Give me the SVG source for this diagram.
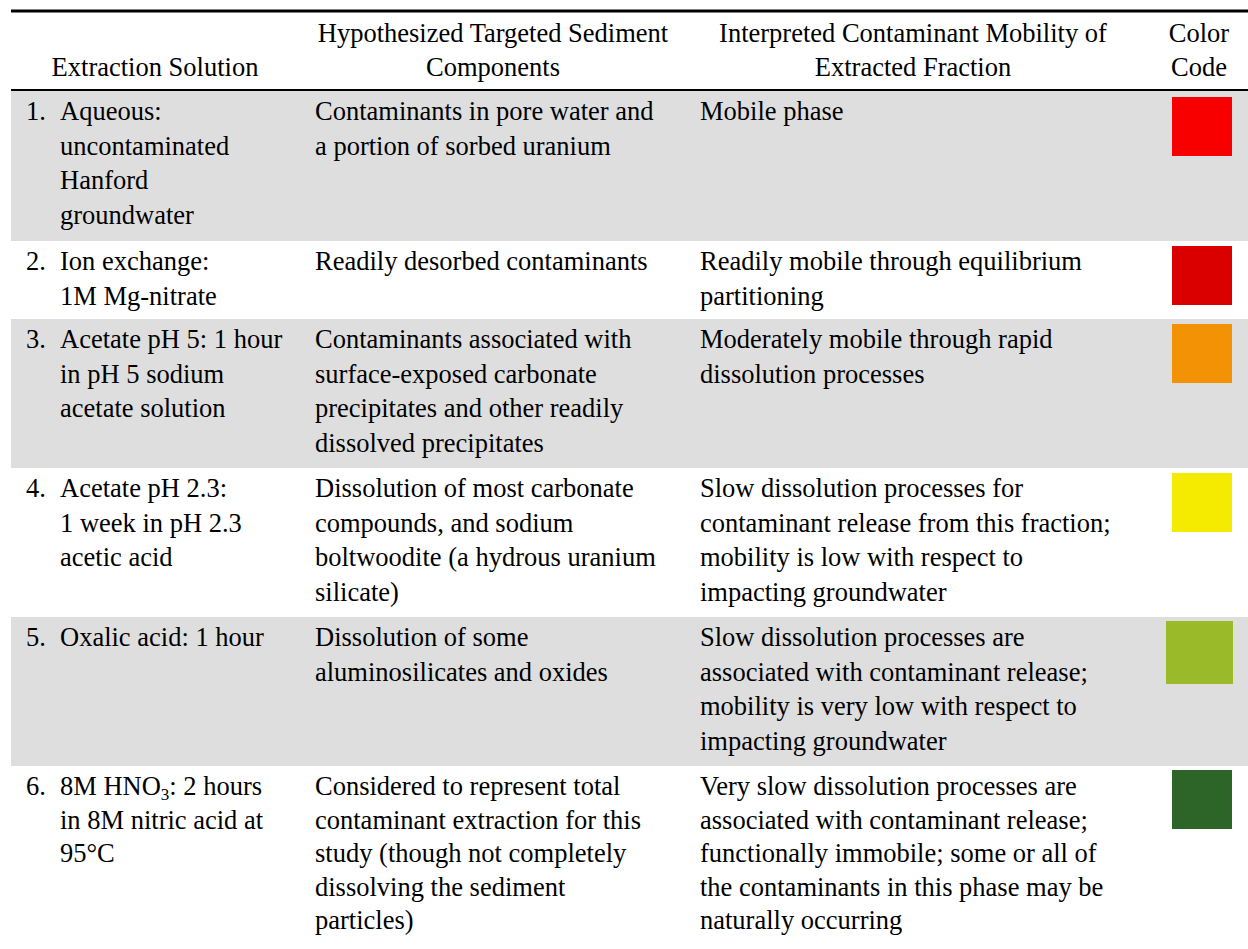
<svg xmlns="http://www.w3.org/2000/svg" width="1248" height="949" viewBox="0 0 1248 949">
<style>
.t{font-family:"Liberation Serif","Times New Roman",serif;font-size:26.5px;fill:#000}
.c{text-anchor:middle}
.band{fill:#dedede}
.rule{stroke:#000}
</style>
<rect x="0" y="0" width="1248" height="949" fill="#fff"/>
<g id="bands">
<rect class="band" x="11" y="91" width="1237" height="150"/>
<rect class="band" x="11" y="319" width="1237" height="149"/>
<rect class="band" x="11" y="617" width="1237" height="149"/>
</g>
<g id="rules">
<line class="rule" x1="11" y1="11" x2="1248" y2="11" stroke-width="3"/>
<line class="rule" x1="11" y1="90" x2="1248" y2="90" stroke-width="2"/>
</g>
<g id="header">
<text class="t c" x="155" y="76">Extraction Solution</text>
<text class="t c" x="493" y="42">Hypothesized Targeted Sediment</text>
<text class="t c" x="493" y="76">Components</text>
<text class="t c" x="913" y="42">Interpreted Contaminant Mobility of</text>
<text class="t c" x="913" y="76">Extracted Fraction</text>
<text class="t c" x="1199" y="42">Color</text>
<text class="t c" x="1199" y="76">Code</text>
</g>
<g id="row1">
<text class="t" x="26" y="120">1.</text>
<text class="t" y="120"><tspan x="60">Aqueous:</tspan><tspan x="60" dy="34.5">uncontaminated</tspan><tspan x="60" dy="34.5">Hanford</tspan><tspan x="60" dy="34.5">groundwater</tspan></text>
<text class="t" y="120"><tspan x="315">Contaminants in pore water and</tspan><tspan x="315" dy="34.5">a portion of sorbed uranium</tspan></text>
<text class="t" x="700" y="120">Mobile phase</text>
<rect x="1172" y="97" width="60" height="59" fill="#f80000"/>
</g>
<g id="row2">
<text class="t" x="26" y="270">2.</text>
<text class="t" y="270"><tspan x="60">Ion exchange:</tspan><tspan x="60" dy="34.5">1M Mg-nitrate</tspan></text>
<text class="t" x="315" y="270">Readily desorbed contaminants</text>
<text class="t" y="270"><tspan x="700">Readily mobile through equilibrium</tspan><tspan x="700" dy="34.5">partitioning</tspan></text>
<rect x="1172" y="246" width="60" height="59" fill="#da0000"/>
</g>
<g id="row3">
<text class="t" x="26" y="348">3.</text>
<text class="t" y="348"><tspan x="60">Acetate pH 5: 1 hour</tspan><tspan x="60" dy="34.5">in pH 5 sodium</tspan><tspan x="60" dy="34.5">acetate solution</tspan></text>
<text class="t" y="348"><tspan x="315">Contaminants associated with</tspan><tspan x="315" dy="34.5">surface-exposed carbonate</tspan><tspan x="315" dy="34.5">precipitates and other readily</tspan><tspan x="315" dy="34.5">dissolved precipitates</tspan></text>
<text class="t" y="348"><tspan x="700">Moderately mobile through rapid</tspan><tspan x="700" dy="34.5">dissolution processes</tspan></text>
<rect x="1172" y="324" width="60" height="59" fill="#f39205"/>
</g>
<g id="row4">
<text class="t" x="26" y="497">4.</text>
<text class="t" y="497"><tspan x="60">Acetate pH 2.3:</tspan><tspan x="60" dy="34.5">1 week in pH 2.3</tspan><tspan x="60" dy="34.5">acetic acid</tspan></text>
<text class="t" y="497"><tspan x="315">Dissolution of most carbonate</tspan><tspan x="315" dy="34.5">compounds, and sodium</tspan><tspan x="315" dy="34.5">boltwoodite (a hydrous uranium</tspan><tspan x="315" dy="34.5">silicate)</tspan></text>
<text class="t" y="497"><tspan x="700">Slow dissolution processes for</tspan><tspan x="700" dy="34.5">contaminant release from this fraction;</tspan><tspan x="700" dy="34.5">mobility is low with respect to</tspan><tspan x="700" dy="34.5">impacting groundwater</tspan></text>
<rect x="1172" y="473" width="60" height="59" fill="#f5eb00"/>
</g>
<g id="row5">
<text class="t" x="26" y="646">5.</text>
<text class="t" x="60" y="646">Oxalic acid: 1 hour</text>
<text class="t" y="646"><tspan x="315">Dissolution of some</tspan><tspan x="315" dy="34.5">aluminosilicates and oxides</tspan></text>
<text class="t" y="646"><tspan x="700">Slow dissolution processes are</tspan><tspan x="700" dy="34.5">associated with contaminant release;</tspan><tspan x="700" dy="34.5">mobility is very low with respect to</tspan><tspan x="700" dy="34.5">impacting groundwater</tspan></text>
<rect x="1166" y="621" width="67" height="63" fill="#9bba29"/>
</g>
<g id="row6">
<text class="t" x="26" y="795">6.</text>
<text class="t" y="795"><tspan x="60">8M HNO</tspan><tspan font-size="17" dy="5">3</tspan><tspan dy="-5">: 2 hours</tspan><tspan x="60" dy="33.5">in 8M nitric acid at</tspan><tspan x="60" dy="33.5">95°C</tspan></text>
<text class="t" y="795"><tspan x="315">Considered to represent total</tspan><tspan x="315" dy="33.5">contaminant extraction for this</tspan><tspan x="315" dy="33.5">study (though not completely</tspan><tspan x="315" dy="33.5">dissolving the sediment</tspan><tspan x="315" dy="33.5">particles)</tspan></text>
<text class="t" y="795"><tspan x="700">Very slow dissolution processes are</tspan><tspan x="700" dy="33.5">associated with contaminant release;</tspan><tspan x="700" dy="33.5">functionally immobile; some or all of</tspan><tspan x="700" dy="33.5">the contaminants in this phase may be</tspan><tspan x="700" dy="33.5">naturally occurring</tspan></text>
<rect x="1172" y="770" width="60" height="59" fill="#2d6428"/>
</g>
</svg>
